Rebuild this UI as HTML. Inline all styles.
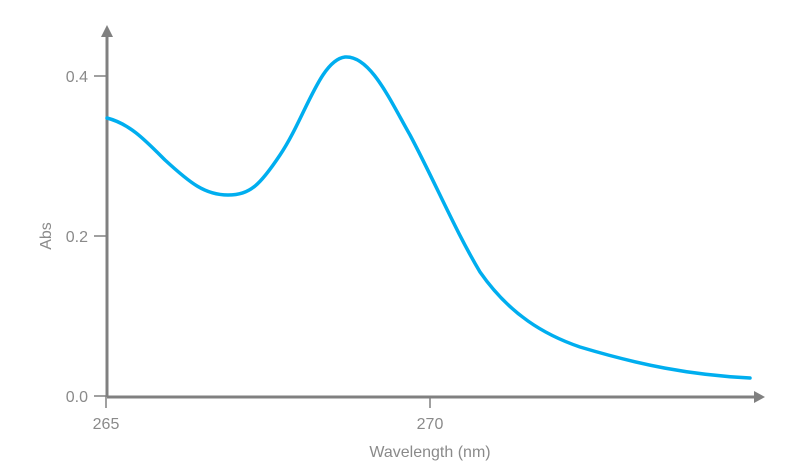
<!DOCTYPE html>
<html><head><style>body{margin:0;background:#fff}svg{display:block}</style></head><body>
<svg width="795" height="472" xmlns="http://www.w3.org/2000/svg" font-family="Liberation Sans, sans-serif">
<g stroke="#808080" stroke-width="3" fill="none">
<line x1="107" y1="397" x2="756" y2="397"/>
<line x1="107" y1="397" x2="107" y2="36"/>
</g>
<g stroke="#808080" stroke-width="1.5">
<line x1="94" y1="396" x2="107" y2="396"/>
<line x1="94" y1="236" x2="107" y2="236"/>
<line x1="94" y1="76" x2="107" y2="76"/>
<line x1="106" y1="396" x2="106" y2="408"/>
<line x1="430" y1="396" x2="430" y2="408"/>
</g>
<polygon points="101,37 113,37 107,25" fill="#808080"/>
<polygon points="754,391 754,403 765,397" fill="#808080"/>
<g fill="#8a8a8a" font-size="16">
<text x="88" y="402" text-anchor="end">0.0</text>
<text x="88" y="242" text-anchor="end">0.2</text>
<text x="88" y="82" text-anchor="end">0.4</text>
<text x="106" y="429" text-anchor="middle">265</text>
<text x="430" y="429" text-anchor="middle">270</text>
<text x="430" y="457" text-anchor="middle">Wavelength (nm)</text>
<text transform="translate(51,236) rotate(-90)" text-anchor="middle">Abs</text>
</g>
<path d="M107,118 C130,124 145,140 165,160 C190,183 205,195 228,195 C250,195 260,185 280,155 C305,118 320,60 345,57 C370,55 390,100 410,135 C435,182 455,230 480,272 C510,315 545,335 580,347 C640,365 690,375 750,378" fill="none" stroke="#00aeef" stroke-width="3.5" stroke-linecap="round"/>
</svg>
</body></html>
